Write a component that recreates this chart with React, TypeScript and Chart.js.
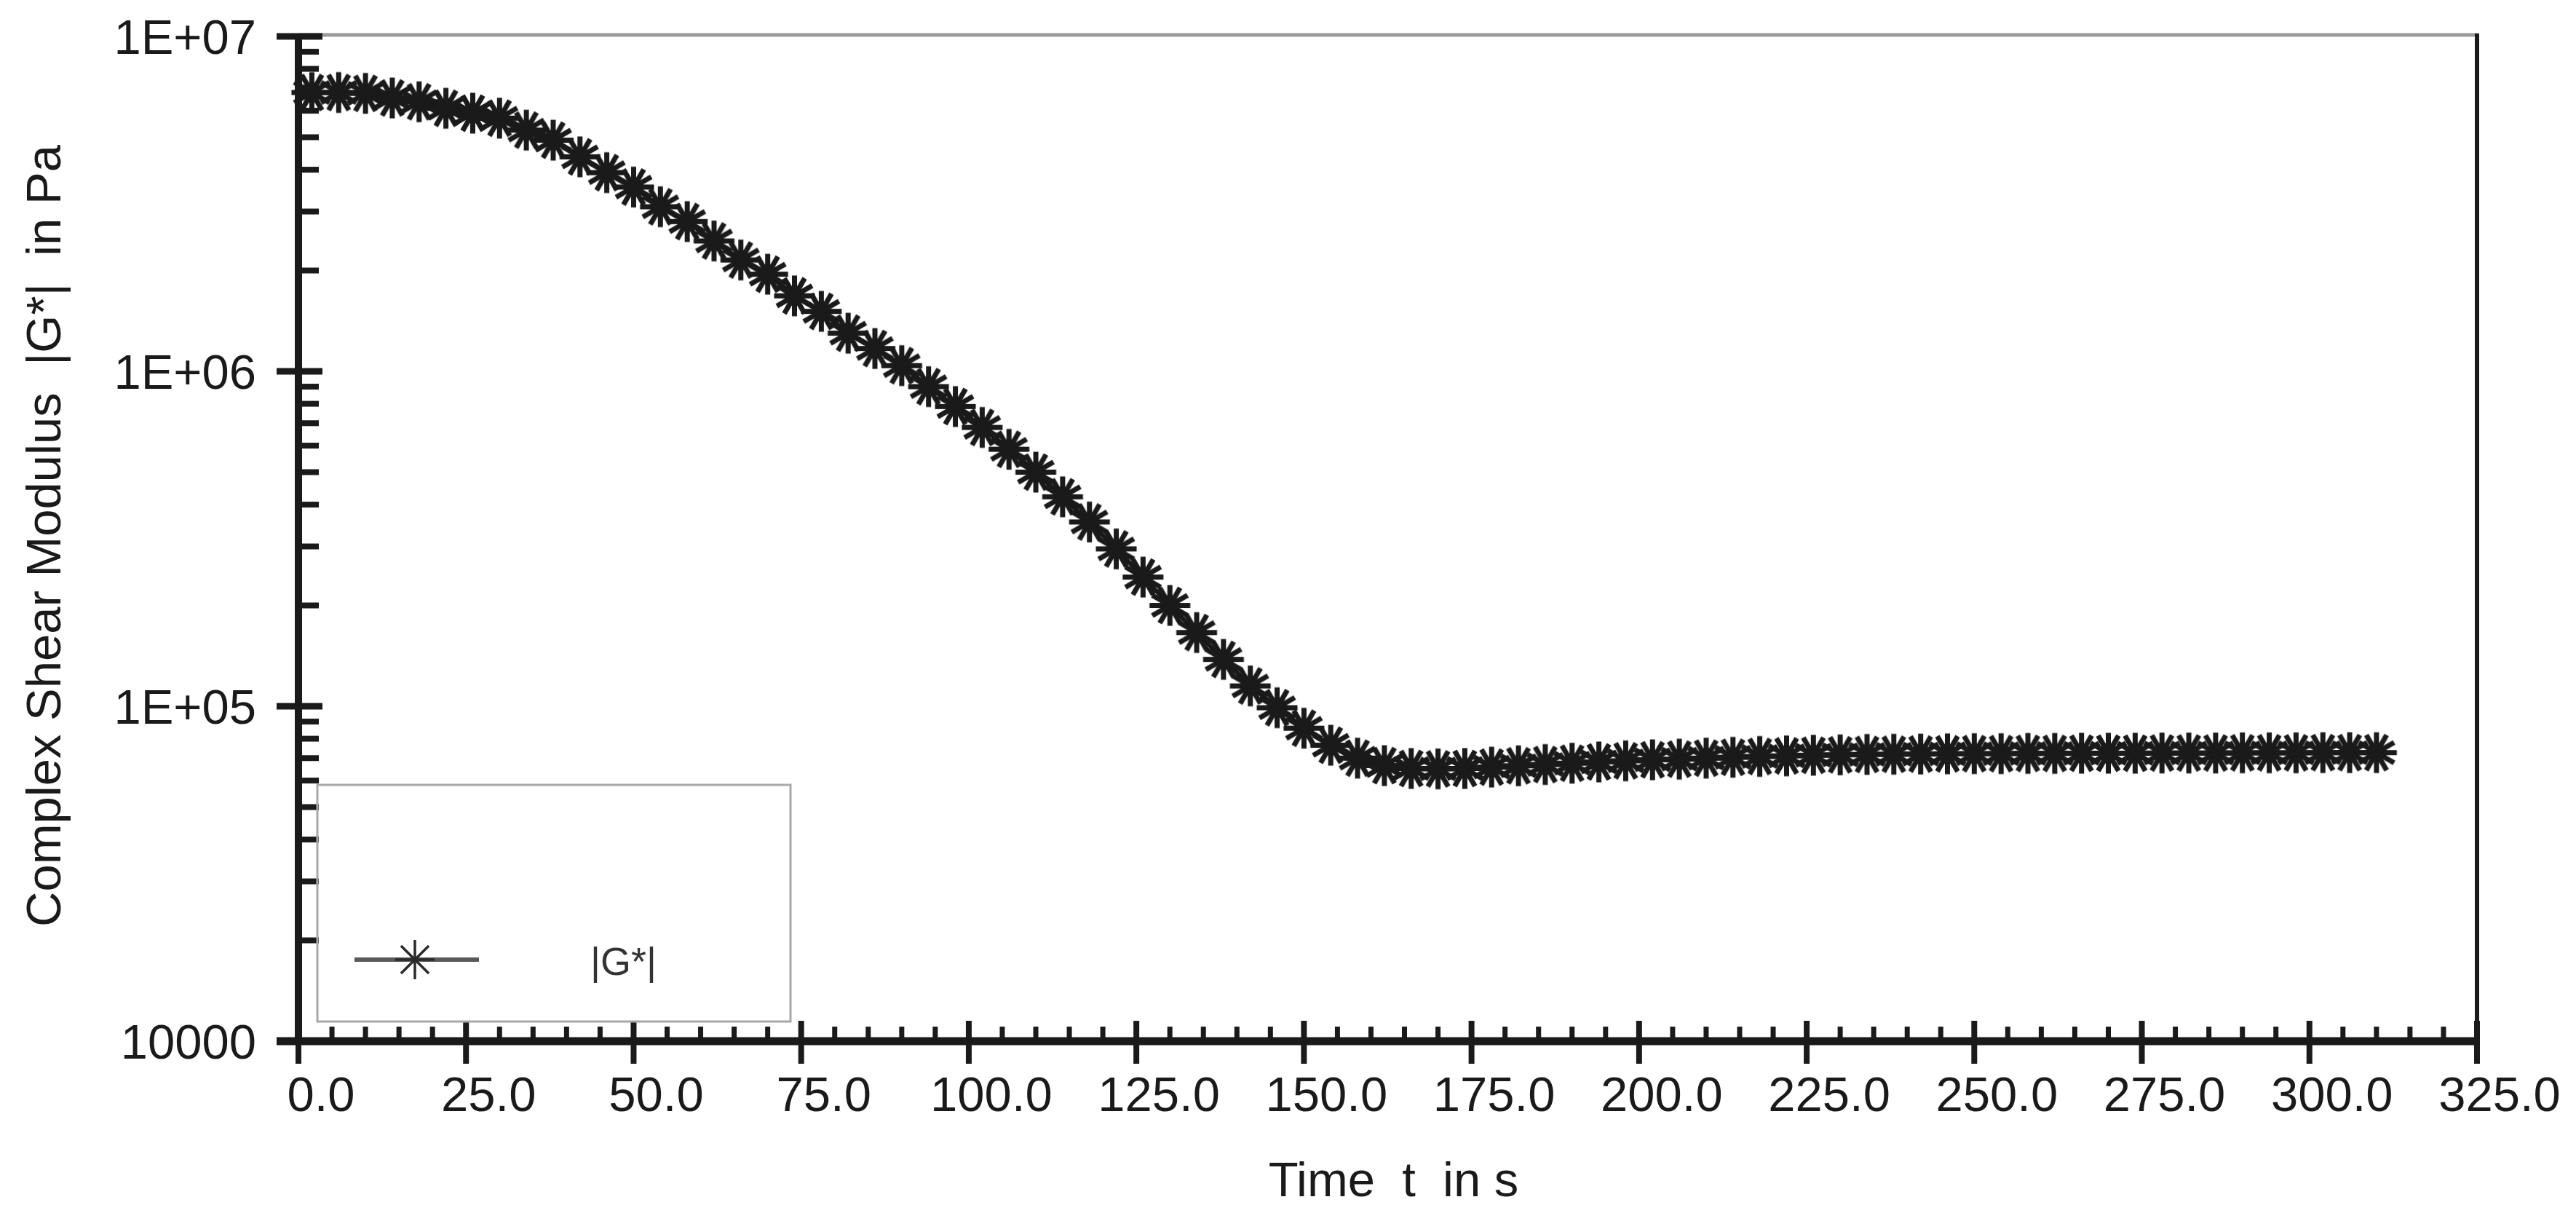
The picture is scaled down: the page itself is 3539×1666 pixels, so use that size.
import React, { useEffect, useRef } from "react";
import { Chart, registerables } from "chart.js";

Chart.register(...registerables);

// ---- data ----
const timeS = [
  2, 6, 10, 14, 18, 22, 26, 30, 34, 38,
  42, 46, 50, 54, 58, 62, 66, 70, 74, 78,
  82, 86, 90, 94, 98, 102, 106, 110, 114, 118,
  122, 126, 130, 134, 138, 142, 146, 150, 154, 158,
  162, 166, 170, 174, 178, 182, 186, 190, 194, 198,
  202, 206, 210, 214, 218, 222, 226, 230, 234, 238,
  242, 246, 250, 254, 258, 262, 266, 270, 274, 278,
  282, 286, 290, 294, 298, 302, 306, 310,
];

const modulusPa = [
  6.8e6, 6.8e6, 6.76e6, 6.55e6, 6.38e6, 6.1e6, 5.9e6, 5.7e6, 5.25e6, 4.9e6,
  4.37e6, 3.92e6, 3.55e6, 3.1e6, 2.8e6, 2.45e6, 2.15e6, 1.95e6, 1.68e6, 1.51e6,
  1.3e6, 1.17e6, 1.04e6, 9.0e5, 7.85e5, 6.8e5, 5.85e5, 5.0e5, 4.22e5, 3.55e5,
  2.95e5, 2.43e5, 2.0e5, 1.66e5, 1.38e5, 1.15e5, 9.9e4, 8.6e4, 7.65e4, 7.0e4,
  6.65e4, 6.52e4, 6.5e4, 6.52e4, 6.58e4, 6.64e4, 6.7e4, 6.76e4, 6.82e4, 6.87e4,
  6.92e4, 6.95e4, 7.0e4, 7.04e4, 7.08e4, 7.11e4, 7.14e4, 7.16e4, 7.18e4, 7.19e4,
  7.2e4, 7.21e4, 7.22e4, 7.22e4, 7.23e4, 7.23e4, 7.24e4, 7.24e4, 7.24e4, 7.25e4,
  7.25e4, 7.25e4, 7.26e4, 7.26e4, 7.26e4, 7.27e4, 7.27e4, 7.27e4,
];

const xTickValues = [0, 25, 50, 75, 100, 125, 150, 175, 200, 225, 250, 275, 300, 325];
const xTickLabels = [
  "0.0", "25.0", "50.0", "75.0", "100.0", "125.0", "150.0",
  "175.0", "200.0", "225.0", "250.0", "275.0", "300.0", "325.0",
];
const xMinorStep = 5;

const yTickValues = [1e4, 1e5, 1e6, 1e7];
const yTickLabels = ["10000", "1E+05", "1E+06", "1E+07"];

const seriesLabel = "|G*|";
const xTitle = "Time  t  in s";
const yTitle = "Complex Shear Modulus  |G*|  in Pa";

// ---- styling ----
const W = 3539;
const H = 1666;
const FONT = '"Liberation Sans", Arial, Helvetica, sans-serif';
const INK = "#1a1a1a";
const TEXT_SIZE = 67;

function makeAsterisk(radius: number, lineWidth: number, spokes: number, color: string) {
  const size = Math.ceil(2 * radius + lineWidth + 2);
  const c = document.createElement("canvas");
  c.width = size;
  c.height = size;
  const ctx = c.getContext("2d")!;
  ctx.strokeStyle = color;
  ctx.lineWidth = lineWidth;
  const cx = size / 2;
  const n = spokes / 2;
  for (let i = 0; i < n; i++) {
    const a = (Math.PI * i) / n;
    ctx.beginPath();
    ctx.moveTo(cx + radius * Math.cos(a), cx + radius * Math.sin(a));
    ctx.lineTo(cx - radius * Math.cos(a), cx - radius * Math.sin(a));
    ctx.stroke();
  }
  return c;
}

function seg(ctx: CanvasRenderingContext2D, x1: number, y1: number, x2: number, y2: number) {
  ctx.beginPath();
  ctx.moveTo(x1, y1);
  ctx.lineTo(x2, y2);
  ctx.stroke();
}

const framePlugin = {
  id: "frame",
  afterDatasetsDraw(chart: any) {
    const { ctx, chartArea, scales } = chart;
    const { left, right, top, bottom } = chartArea;
    const xs = scales.x;
    const ys = scales.y;
    ctx.save();
    ctx.lineCap = "butt";
    // top border (grey)
    ctx.strokeStyle = "#9a9a9a";
    ctx.lineWidth = 5;
    seg(ctx, left, top - 2, right, top - 2);
    // right border
    ctx.strokeStyle = INK;
    ctx.lineWidth = 6;
    seg(ctx, right, top - 4, right, bottom + 4);
    // y minor ticks
    ctx.lineWidth = 8;
    for (let d = 0; d < yTickValues.length - 1; d++) {
      for (let k = 2; k <= 9; k++) {
        const py = ys.getPixelForValue(yTickValues[d] * k);
        seg(ctx, left, py, left + 28, py);
      }
    }
    // y major ticks
    ctx.lineWidth = 9;
    yTickValues.forEach((v) => {
      const py = ys.getPixelForValue(v);
      seg(ctx, left - 30, py, left + 33, py);
    });
    // x minor ticks
    ctx.lineWidth = 7;
    const xmin = xTickValues[0];
    const xmax = xTickValues[xTickValues.length - 1];
    for (let v = xmin; v <= xmax; v += xMinorStep) {
      if (xTickValues.includes(v)) continue;
      const px = xs.getPixelForValue(v);
      seg(ctx, px, bottom - 20, px, bottom);
    }
    // x major ticks
    ctx.lineWidth = 8;
    xTickValues.forEach((v) => {
      const px = xs.getPixelForValue(v);
      seg(ctx, px, bottom - 28, px, bottom + 31);
    });
    // axes
    ctx.lineWidth = 10;
    seg(ctx, left, top - 4, left, bottom);
    ctx.lineWidth = 11;
    seg(ctx, left - 30, bottom, right + 3, bottom);
    ctx.restore();
  },
  afterDraw(chart: any) {
    const { ctx, chartArea, scales } = chart;
    const { left, right, top, bottom } = chartArea;
    const xs = scales.x;
    const ys = scales.y;
    ctx.save();
    ctx.fillStyle = INK;
    ctx.font = `${TEXT_SIZE}px ${FONT}`;
    // y tick labels
    ctx.textAlign = "right";
    ctx.textBaseline = "alphabetic";
    yTickValues.forEach((v, i) => {
      const py = ys.getPixelForValue(v);
      ctx.fillText(yTickLabels[i], left - 58, py + 24);
    });
    // x tick labels
    ctx.textAlign = "center";
    xTickValues.forEach((v, i) => {
      const px = xs.getPixelForValue(v);
      ctx.fillText(xTickLabels[i], px + 31, bottom + 96);
    });
    // x title
    ctx.fillText(xTitle, (left + right) / 2 + 8, bottom + 213);
    // y title
    ctx.save();
    ctx.translate(83, (top + bottom) / 2 - 4);
    ctx.rotate(-Math.PI / 2);
    ctx.textAlign = "center";
    ctx.fillText(yTitle, 0, 0);
    ctx.restore();

    // legend box
    ctx.strokeStyle = "#a8a8a8";
    ctx.lineWidth = 3;
    ctx.strokeRect(left + 26, bottom - 352, 650, 325);
    // legend line
    ctx.strokeStyle = "#5a5a5a";
    ctx.lineWidth = 6;
    seg(ctx, left + 77, bottom - 112, left + 248, bottom - 112);
    // legend marker
    const mk = makeAsterisk(27, 3.5, 8, "#2a2a2a");
    ctx.drawImage(mk, left + 160 - mk.width / 2, bottom - 112 - mk.height / 2);
    // legend text
    ctx.fillStyle = "#333333";
    ctx.font = `54px ${FONT}`;
    ctx.textAlign = "left";
    ctx.textBaseline = "middle";
    ctx.fillText(seriesLabel, left + 401, bottom - 106);
    ctx.restore();
  },
};

export default function App() {
  const canvasRef = useRef<HTMLCanvasElement | null>(null);

  useEffect(() => {
    const canvas = canvasRef.current;
    if (!canvas) return;
    const marker = makeAsterisk(28, 7, 12, INK);
    const chart = new Chart(canvas, {
      type: "line",
      data: {
        datasets: [
          {
            label: seriesLabel,
            data: timeS.map((t, i) => ({ x: t, y: modulusPa[i] })),
            borderColor: INK,
            backgroundColor: INK,
            borderWidth: 6,
            pointStyle: marker as any,
            pointRadius: 28,
            pointHoverRadius: 28,
            tension: 0,
            clip: false as any,
          },
        ],
      },
      options: {
        responsive: false,
        animation: false,
        devicePixelRatio: 1,
        layout: { padding: { top: 50, right: 136, bottom: 0, left: 0 } },
        plugins: { legend: { display: false }, tooltip: { enabled: false } },
        events: [],
        scales: {
          x: {
            type: "linear",
            min: xTickValues[0],
            max: xTickValues[xTickValues.length - 1],
            grid: { display: false, drawTicks: false },
            border: { display: false },
            afterBuildTicks: (s: any) => {
              s.ticks = xTickValues.map((v) => ({ value: v }));
            },
            afterFit: (s: any) => {
              s.height = 236;
            },
            ticks: { display: false },
            title: { display: false },
          },
          y: {
            type: "logarithmic",
            min: yTickValues[0],
            max: yTickValues[yTickValues.length - 1],
            grid: { display: false, drawTicks: false },
            border: { display: false },
            afterBuildTicks: (s: any) => {
              s.ticks = yTickValues.map((v) => ({ value: v, major: true }));
            },
            afterFit: (s: any) => {
              s.width = 410;
            },
            ticks: { display: false },
            title: { display: false },
          },
        },
      },
      plugins: [framePlugin],
    });
    return () => chart.destroy();
  }, []);

  return (
    <div style={{ position: "absolute", left: 0, top: 0, width: W, height: H, background: "#ffffff" }}>
      <canvas ref={canvasRef} width={W} height={H} style={{ width: W, height: H, display: "block" }} />
    </div>
  );
}
